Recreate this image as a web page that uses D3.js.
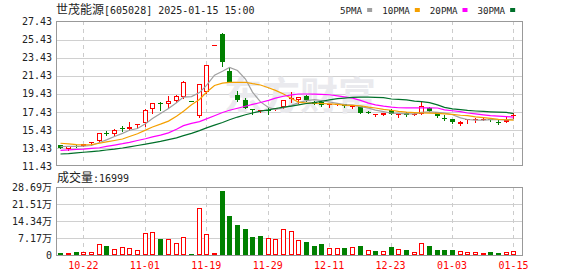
<!DOCTYPE html>
<html>
<head>
<meta charset="utf-8">
<script src="https://cdn.jsdelivr.net/npm/d3@7/dist/d3.min.js"></script>
<style>
  body { margin: 0; background: #fff; }
  svg { display: block; }
</style>
</head>
<body>
<div id="chart"></div>
<script>
// ---- data ----
const dates = ['10-17','10-18','10-21','10-22','10-23','10-24','10-25','10-28','10-29','10-30',
  '10-31','11-01','11-04','11-05','11-06','11-07','11-08','11-11','11-12','11-19',
  '11-20','11-21','11-22','11-25','11-26','11-27','11-28','11-29','12-02','12-03',
  '12-04','12-05','12-06','12-09','12-10','12-11','12-12','12-13','12-16','12-17',
  '12-18','12-19','12-20','12-23','12-24','12-25','12-26','12-27','12-30','12-31',
  '01-02','01-03','01-06','01-07','01-08','01-09','01-10','01-13','01-14','01-15'];

const open = [13.72,13.30,13.64,13.62,13.95,14.17,15.10,14.95,15.60,15.50,
  15.95,16.17,17.73,18.45,18.25,18.62,19.06,18.68,17.00,19.65,
  24.86,26.00,22.00,19.30,18.75,17.70,17.52,17.66,17.70,18.00,
  18.90,18.75,19.22,18.55,18.55,18.18,18.20,18.30,17.95,18.02,
  17.42,17.12,17.12,17.62,17.20,17.35,17.10,17.18,17.90,17.42,
  16.80,16.60,16.05,16.48,16.60,16.67,16.60,16.35,16.30,17.02];
const high = [13.75,13.62,13.70,13.85,14.10,15.12,15.29,15.55,15.84,16.32,
  16.10,17.70,18.45,18.50,19.13,19.32,20.87,18.68,20.55,22.60,
  24.86,26.17,22.24,19.73,18.99,17.75,17.62,17.80,17.85,18.75,
  19.60,19.12,19.25,18.60,18.65,18.30,18.35,18.35,18.15,18.10,
  17.55,17.20,17.30,17.70,17.30,17.38,17.30,18.54,17.95,17.45,
  17.05,16.65,16.36,16.62,16.80,16.70,16.62,16.50,16.95,17.29];
const low = [13.40,13.25,13.55,13.60,13.73,14.10,14.84,14.90,15.35,15.45,
  15.69,15.90,17.29,17.62,17.80,18.55,18.95,18.68,16.85,19.50,
  24.86,22.46,20.70,18.60,17.85,17.20,17.45,17.20,17.65,17.80,
  18.50,18.45,18.65,18.30,18.10,18.00,18.15,18.00,17.90,17.25,
  17.35,16.98,17.05,17.20,16.90,16.95,17.05,17.15,17.48,16.90,
  16.50,16.20,16.00,16.17,16.25,16.55,16.45,16.13,16.25,16.80];
const close = [13.42,13.60,13.58,13.82,14.06,15.08,15.04,15.46,15.55,15.80,
  16.06,17.65,18.40,18.30,18.65,19.20,20.76,18.68,20.50,22.60,
  24.86,23.00,20.77,18.77,17.90,17.62,17.58,17.62,17.80,18.72,
  19.00,19.10,18.70,18.35,18.20,18.25,18.28,18.05,18.12,17.30,
  17.38,17.18,17.28,17.22,17.24,17.10,17.20,18.08,17.52,16.95,
  16.75,16.25,16.33,16.60,16.64,16.67,16.55,16.30,16.55,17.08];
const volume = [8000,8000,12600,12000,12000,46000,39000,25000,34000,29500,
  21000,93000,97000,69000,67500,50600,76000,4000,198000,88600,
  8400,270000,164600,126600,109700,76000,80000,72000,67500,109700,
  101000,62000,56000,39000,46000,29500,29500,29500,34000,39000,
  21000,17000,17000,34000,25000,21000,12600,50600,38000,21000,
  21000,21000,17000,12600,12600,8400,12600,8400,12600,16999];

const ma5 = [13.58,13.60,13.60,13.62,13.70,14.03,14.32,14.69,15.04,15.39,
  15.58,16.10,16.69,17.24,17.81,18.44,19.06,19.12,19.56,20.35,
  21.48,21.93,22.35,22.00,21.06,19.61,18.53,17.90,17.70,17.87,
  18.14,18.45,18.66,18.77,18.67,18.52,18.36,18.23,18.18,18.00,
  17.83,17.61,17.45,17.27,17.26,17.20,17.21,17.37,17.43,17.37,
  17.30,17.11,16.76,16.58,16.51,16.50,16.56,16.55,16.54,16.63];
const ma10 = [13.95,13.88,13.80,13.76,13.80,13.95,14.10,14.25,14.42,14.70,
  15.00,15.40,15.75,16.06,16.40,16.95,17.50,18.20,18.80,19.60,
  20.35,20.60,20.68,20.70,20.70,20.55,20.40,20.10,19.80,19.40,
  18.90,18.50,18.40,18.40,18.35,18.30,18.25,18.18,18.15,18.10,
  17.95,17.85,17.70,17.60,17.48,17.40,17.35,17.30,17.28,17.26,
  17.20,17.15,17.05,17.00,16.88,16.78,16.70,16.60,16.55,16.50];
const ma20 = [13.17,13.22,13.27,13.30,13.38,13.45,13.60,13.75,13.90,14.05,
  14.25,14.45,14.65,14.85,15.10,15.50,15.90,16.15,16.35,16.65,
  17.00,17.35,17.60,17.82,18.05,18.25,18.46,18.70,18.95,19.15,
  19.30,19.40,19.40,19.38,19.35,19.32,19.20,19.08,18.95,18.70,
  18.40,18.20,18.05,17.95,17.88,17.87,17.87,17.87,17.87,17.85,
  17.65,17.55,17.45,17.30,17.20,17.10,17.00,16.95,16.90,16.84];
const ma30 = [12.76,12.80,12.88,12.95,13.02,13.10,13.20,13.30,13.42,13.55,
  13.70,13.85,14.00,14.15,14.35,14.55,14.80,15.05,15.35,15.65,
  15.95,16.25,16.55,16.85,17.10,17.30,17.50,17.65,17.80,17.95,
  18.05,18.20,18.35,18.45,18.60,18.75,18.88,18.95,19.02,19.05,
  19.05,19.03,19.00,18.85,18.80,18.75,18.62,18.55,18.45,18.20,
  17.92,17.75,17.68,17.58,17.52,17.47,17.43,17.40,17.36,17.22];

const priceTicks = [11.43,13.43,15.43,17.43,19.43,21.43,23.43,25.43,27.43];
const volTicks = [0,71725,143450,215175,286900];
const volTickLabels = ['0','7.17万','14.34万','21.51万','28.69万'];
const labelIdx = [3,11,19,27,35,43,51,59];
const maNames = ['5PMA','10PMA','20PMA','30PMA'];
const stockName = '世茂能源';
const stockInfo = '[605028] 2025-01-15 15:00';
const lastVolume = 16999;

// ---- layout / style ----
const W = 578, H = 276;
const pLeft = 56, pRight = 522, pTop = 21, pBottom = 165.5;
const vTop = 187, vBottom = 255;
const RED = '#ff0000', GREEN = '#008000';
const maColors = ['#a0a0a0', '#f5a000', '#ff00ff', '#00702a'];
const MONO = '"DejaVu Sans Mono", monospace';
const CJK = '"Noto Sans CJK SC", sans-serif';

const svg = d3.select('#chart').append('svg')
  .attr('width', W).attr('height', H);

// scales
const x = d3.scaleBand().domain(d3.range(dates.length)).range([56.5, 517.3]);
const cx = i => Math.round(x(i) + x.bandwidth() / 2);
const y = d3.scaleLinear().domain([11.43, 27.43]).range([166, 21.5]);
const yv = d3.scaleLinear().domain([0, 286900]).range([vBottom, vTop]);

const grid = svg.append('g').attr('shape-rendering', 'crispEdges');

// horizontal grid lines
grid.selectAll('.hp').data(priceTicks.slice(1, -1)).enter().append('line')
  .attr('x1', pLeft).attr('x2', pRight)
  .attr('y1', d => Math.round(y(d)) + 0.5).attr('y2', d => Math.round(y(d)) + 0.5)
  .attr('stroke', '#d0d0d0');
grid.selectAll('.hv').data(volTicks.slice(1, -1)).enter().append('line')
  .attr('x1', pLeft).attr('x2', pRight)
  .attr('y1', d => Math.round(yv(d)) + 0.5).attr('y2', d => Math.round(yv(d)) + 0.5)
  .attr('stroke', '#d0d0d0');

// vertical dashed lines at the date labels
[[pTop, pBottom], [vTop, vBottom]].forEach(r => {
  grid.selectAll(null).data(labelIdx).enter().append('line')
    .attr('x1', i => cx(i) + 0.5).attr('x2', i => cx(i) + 0.5)
    .attr('y1', r[0]).attr('y2', r[1])
    .attr('stroke', '#cccccc').attr('stroke-dasharray', '4,4');
});

// watermark
svg.append('text')
  .attr('x', 224).attr('y', 109)
  .style('font-family', CJK).style('font-size', '38px').style('font-weight', 'bold')
  .style('fill', '#eaeaee')
  .text('东方财富');

// frames
grid.append('path')
  .attr('d', `M${pLeft + 0.5},${pBottom}V${pTop + 0.5}H${pRight + 0.5}V${pBottom}`)
  .attr('fill', 'none').attr('stroke', '#999');
grid.append('line').attr('x1', pLeft).attr('x2', pRight + 1)
  .attr('y1', pBottom).attr('y2', pBottom).attr('stroke', '#999');
grid.append('rect')
  .attr('x', pLeft + 0.5).attr('y', vTop + 0.5)
  .attr('width', pRight - pLeft).attr('height', vBottom - vTop)
  .attr('fill', 'none').attr('stroke', '#999');

// ---- candles ----
const isUp = i => close[i] > open[i] || (close[i] === open[i] && close[i] >= (i ? close[i - 1] : open[i]));
const candles = svg.append('g').attr('shape-rendering', 'crispEdges');
dates.forEach((d, i) => {
  const c = cx(i);
  const col = isUp(i) ? RED : GREEN;
  candles.append('line')
    .attr('x1', c + 0.5).attr('x2', c + 0.5)
    .attr('y1', Math.round(y(high[i]))).attr('y2', Math.round(y(low[i])) + 1)
    .attr('stroke', col);
  const top = Math.round(y(Math.max(open[i], close[i])));
  const bot = Math.round(y(Math.min(open[i], close[i])));
  if (bot - top < 2) {
    candles.append('rect').attr('x', c - 2).attr('y', top).attr('width', 5).attr('height', Math.max(1, bot - top))
      .attr('fill', col);
  } else if (close[i] > open[i]) {
    candles.append('rect').attr('x', c - 1.5).attr('y', top + 0.5).attr('width', 4).attr('height', bot - top - 1)
      .attr('fill', '#fff').attr('stroke', col);
  } else {
    candles.append('rect').attr('x', c - 2).attr('y', top).attr('width', 5).attr('height', bot - top)
      .attr('fill', col);
  }
});

// ---- moving averages ----
const line = d3.line().x((v, i) => cx(i) + 0.5).y(v => y(v));
[ma5, ma10, ma20, ma30].forEach((s, k) => {
  svg.append('path').datum(s)
    .attr('d', line).attr('fill', 'none')
    .attr('stroke', maColors[k]).attr('stroke-width', 1.2);
});

// ---- volume bars ----
const vols = svg.append('g').attr('shape-rendering', 'crispEdges');
volume.forEach((v, i) => {
  const c = cx(i);
  const prev = i ? close[i - 1] : open[i];
  const up = close[i] >= prev;
  const col = up ? RED : GREEN;
  const top = Math.round(yv(v));
  if (up && close[i] !== open[i] && vBottom - top > 2) {
    vols.append('rect').attr('x', c - 1.5).attr('y', top + 0.5)
      .attr('width', 4).attr('height', vBottom - top - 1)
      .attr('fill', '#fff').attr('stroke', col);
  } else {
    vols.append('rect').attr('x', c - 2).attr('y', top)
      .attr('width', 5).attr('height', Math.max(1, vBottom - top))
      .attr('fill', col);
  }
});

// ---- axes ----
const yAxis = svg.append('g').attr('transform', `translate(${pLeft},0)`)
  .call(d3.axisLeft(y).tickValues(priceTicks).tickSize(0).tickPadding(4).tickFormat(d3.format('.2f')));
const vAxis = svg.append('g').attr('transform', `translate(${pLeft},0)`)
  .call(d3.axisLeft(yv).tickValues(volTicks).tickSize(0).tickPadding(4).tickFormat((d, k) => volTickLabels[k]));
const xAxis = svg.append('g').attr('transform', `translate(0,${vBottom})`)
  .call(d3.axisBottom(x).tickValues(labelIdx).tickSize(0).tickPadding(7).tickFormat(i => dates[i]));
[yAxis, vAxis, xAxis].forEach(g => {
  g.select('.domain').remove();
  g.attr('font-family', `"DejaVu Sans Mono", "Noto Sans CJK SC", monospace`).attr('font-size', 10);
});
yAxis.selectAll('text').attr('fill', '#222');
vAxis.selectAll('text').attr('fill', '#222');
xAxis.selectAll('text').attr('fill', RED);

// ---- title ----
const title = svg.append('text').attr('x', 56).attr('y', 14).attr('fill', '#222');
title.append('tspan').style('font-family', CJK).style('font-size', '12px').text(stockName);
title.append('tspan').style('font-family', MONO).style('font-size', '10px').text(stockInfo);

// legend
let lx = 340;
maNames.forEach((n, k) => {
  const t = svg.append('text').attr('x', lx).attr('y', 14)
    .style('font-family', MONO).style('font-size', '9.2px').attr('fill', '#222')
    .text(n);
  lx += t.node().getComputedTextLength() + 5;
  svg.append('rect').attr('x', lx).attr('y', 8).attr('width', 5).attr('height', 4)
    .attr('fill', maColors[k]);
  lx += 15;
});

// volume title
const vt = svg.append('text').attr('x', 57).attr('y', 182).attr('fill', '#222');
vt.append('tspan').style('font-family', CJK).style('font-size', '12px').text('成交量');
vt.append('tspan').style('font-family', MONO).style('font-size', '10px').text(':' + lastVolume);
</script>
</body>
</html>
